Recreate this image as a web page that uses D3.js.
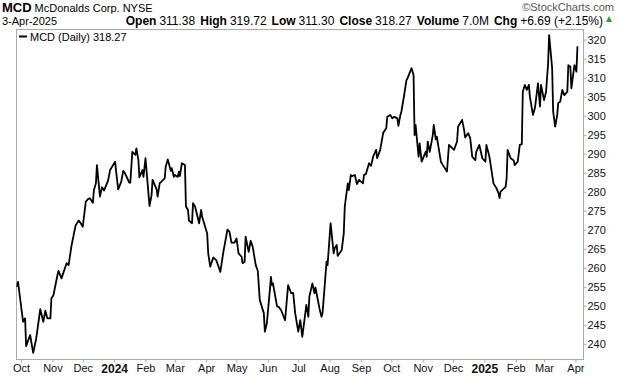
<!DOCTYPE html>
<html lang="en">
<head>
<meta charset="UTF-8" />
<title>MCD</title>
<style>
  body { margin: 0; background: #fff; }
  text { font-family: "Liberation Sans", Arial, sans-serif; }
</style>
</head>
<body>
<svg id="chart" width="620" height="376"></svg>
<script src="https://cdn.jsdelivr.net/npm/d3@7"></script>
<script>
// header text
const symbol = "MCD";
const company = "McDonalds Corp. NYSE";
const quoteDate = "3-Apr-2025";
const quoteFields = [["Open", "311.38"], ["High", "319.72"], ["Low", "311.30"], ["Close", "318.27"], ["Volume", "7.0M"], ["Chg", "+6.69 (+2.15%)"]];
const legendLabel = "MCD (Daily) 318.27";
const credit = "\u00A9StockCharts.com";

// daily closes
const prices2023 = [
  ["2023-09-27", 255.0], ["2023-09-28", 256.3], ["2023-10-03", 245.8], ["2023-10-05", 246.7],
  ["2023-10-06", 239.4], ["2023-10-10", 242.3], ["2023-10-13", 237.6], ["2023-10-16", 241.4],
  ["2023-10-20", 249.1], ["2023-10-23", 245.8], ["2023-10-25", 248.7], ["2023-10-27", 246.7],
  ["2023-10-30", 246.7], ["2023-10-31", 252.0], ["2023-11-02", 252.8], ["2023-11-06", 258.1],
  ["2023-11-07", 259.2], ["2023-11-10", 257.2], ["2023-11-15", 261.2], ["2023-11-17", 260.7],
  ["2023-11-20", 266.0], ["2023-11-24", 271.2], ["2023-11-27", 272.4], ["2023-11-29", 271.7],
  ["2023-12-01", 270.8], ["2023-12-04", 277.4], ["2023-12-06", 278.0], ["2023-12-08", 278.3],
  ["2023-12-11", 277.1], ["2023-12-12", 280.4], ["2023-12-14", 282.2], ["2023-12-15", 287.0],
  ["2023-12-18", 278.7], ["2023-12-20", 281.2], ["2023-12-22", 280.3], ["2023-12-26", 282.9],
  ["2023-12-28", 285.7]
];
const prices2024 = [
  ["2024-01-02", 287.9], ["2024-01-03", 285.3], ["2024-01-05", 280.6], ["2024-01-08", 282.6],
  ["2024-01-10", 285.5], ["2024-01-12", 284.7], ["2024-01-16", 282.4], ["2024-01-17", 282.4],
  ["2024-01-19", 290.5], ["2024-01-22", 289.7], ["2024-01-23", 291.4], ["2024-01-25", 288.3],
  ["2024-01-26", 283.8], ["2024-01-29", 285.7], ["2024-01-30", 283.9], ["2024-02-01", 288.8],
  ["2024-02-02", 285.7], ["2024-02-05", 276.2], ["2024-02-07", 279.1], ["2024-02-08", 283.1],
  ["2024-02-12", 280.6], ["2024-02-13", 278.7], ["2024-02-15", 282.2], ["2024-02-20", 283.5],
  ["2024-02-21", 286.6], ["2024-02-23", 288.5], ["2024-02-26", 285.5], ["2024-02-27", 286.2],
  ["2024-02-29", 283.9], ["2024-03-01", 284.4], ["2024-03-04", 283.9], ["2024-03-05", 285.3],
  ["2024-03-06", 284.1], ["2024-03-08", 287.5], ["2024-03-11", 287.0], ["2024-03-12", 276.1],
  ["2024-03-14", 275.2], ["2024-03-15", 272.4], ["2024-03-18", 271.7], ["2024-03-19", 277.0],
  ["2024-03-21", 276.1], ["2024-03-25", 271.7], ["2024-03-27", 275.2], ["2024-03-28", 273.4],
  ["2024-04-02", 269.0], ["2024-04-03", 263.8], ["2024-04-05", 260.3], ["2024-04-08", 262.7],
  ["2024-04-11", 262.0], ["2024-04-15", 258.9], ["2024-04-18", 264.2], ["2024-04-22", 270.0],
  ["2024-04-24", 269.5], ["2024-04-26", 266.6], ["2024-04-29", 266.6], ["2024-05-01", 267.7],
  ["2024-05-03", 263.8], ["2024-05-06", 262.9], ["2024-05-07", 261.2], ["2024-05-09", 261.6],
  ["2024-05-10", 268.2], ["2024-05-13", 264.2], ["2024-05-15", 267.1], ["2024-05-17", 265.5],
  ["2024-05-20", 260.7], ["2024-05-22", 259.2], ["2024-05-24", 251.5], ["2024-05-28", 248.0],
  ["2024-05-29", 243.2], ["2024-05-31", 245.4], ["2024-06-03", 254.3], ["2024-06-04", 257.6],
  ["2024-06-05", 255.4], ["2024-06-06", 255.9], ["2024-06-10", 249.9], ["2024-06-12", 249.6],
  ["2024-06-14", 248.9], ["2024-06-18", 246.2], ["2024-06-20", 252.4], ["2024-06-21", 255.4],
  ["2024-06-24", 253.3], ["2024-06-26", 253.4], ["2024-06-28", 248.0], ["2024-07-01", 243.2],
  ["2024-07-03", 246.2], ["2024-07-05", 241.8], ["2024-07-09", 250.2], ["2024-07-11", 247.1],
  ["2024-07-12", 252.4], ["2024-07-15", 255.9], ["2024-07-17", 253.3], ["2024-07-18", 254.8],
  ["2024-07-22", 249.3], ["2024-07-24", 247.1], ["2024-07-25", 248.0], ["2024-07-29", 261.6],
  ["2024-07-30", 260.7], ["2024-08-02", 271.7], ["2024-08-05", 263.8], ["2024-08-06", 265.1],
  ["2024-08-08", 266.0], ["2024-08-09", 263.1], ["2024-08-13", 264.7], ["2024-08-15", 269.0],
  ["2024-08-16", 276.1], ["2024-08-19", 282.2], ["2024-08-20", 280.4], ["2024-08-22", 284.4],
  ["2024-08-23", 284.1], ["2024-08-26", 284.4], ["2024-08-28", 282.0], ["2024-08-30", 283.1],
  ["2024-09-03", 282.2], ["2024-09-04", 284.4], ["2024-09-06", 284.7], ["2024-09-09", 287.5],
  ["2024-09-11", 286.8], ["2024-09-13", 289.2], ["2024-09-16", 291.0], ["2024-09-17", 288.8],
  ["2024-09-20", 291.0], ["2024-09-23", 295.5], ["2024-09-26", 296.7], ["2024-09-27", 299.7],
  ["2024-09-30", 300.2], ["2024-10-02", 299.3], ["2024-10-04", 299.7], ["2024-10-07", 299.3],
  ["2024-10-08", 297.3], ["2024-10-10", 300.2], ["2024-10-11", 301.1], ["2024-10-14", 305.9],
  ["2024-10-16", 309.4], ["2024-10-17", 309.8], ["2024-10-21", 312.5], ["2024-10-23", 310.7],
  ["2024-10-24", 294.9], ["2024-10-25", 297.6], ["2024-10-28", 289.2], ["2024-10-29", 292.7],
  ["2024-10-31", 287.9], ["2024-11-04", 290.5], ["2024-11-05", 289.2], ["2024-11-06", 293.2],
  ["2024-11-08", 290.5], ["2024-11-11", 294.9], ["2024-11-12", 297.6], ["2024-11-14", 293.8],
  ["2024-11-15", 294.5], ["2024-11-19", 287.9], ["2024-11-21", 287.0], ["2024-11-25", 285.3],
  ["2024-11-27", 292.3], ["2024-11-29", 291.8], ["2024-12-02", 291.0], ["2024-12-05", 293.2],
  ["2024-12-06", 297.1], ["2024-12-10", 298.9], ["2024-12-12", 296.2], ["2024-12-13", 294.3],
  ["2024-12-16", 295.4], ["2024-12-18", 294.1], ["2024-12-20", 289.2], ["2024-12-23", 288.3],
  ["2024-12-24", 290.5], ["2024-12-27", 292.3], ["2024-12-30", 288.8]
];
const prices2025 = [
  ["2025-01-02", 287.9], ["2025-01-03", 292.3], ["2025-01-06", 289.2], ["2025-01-08", 285.7],
  ["2025-01-10", 282.2], ["2025-01-13", 280.9], ["2025-01-15", 279.6], ["2025-01-16", 278.3],
  ["2025-01-17", 280.0], ["2025-01-22", 281.3], ["2025-01-23", 283.5], ["2025-01-24", 291.0],
  ["2025-01-27", 288.8], ["2025-01-30", 288.2], ["2025-01-31", 287.0], ["2025-02-03", 287.9],
  ["2025-02-05", 292.3], ["2025-02-07", 292.5], ["2025-02-08", 306.3], ["2025-02-10", 308.1],
  ["2025-02-12", 306.8], ["2025-02-14", 308.1], ["2025-02-15", 305.0], ["2025-02-18", 300.2],
  ["2025-02-20", 302.0], ["2025-02-23", 308.5], ["2025-02-25", 302.4], ["2025-02-26", 308.1],
  ["2025-03-01", 304.1], ["2025-03-03", 306.3], ["2025-03-05", 313.8], ["2025-03-06", 321.2],
  ["2025-03-09", 312.5], ["2025-03-10", 301.1], ["2025-03-12", 297.1], ["2025-03-14", 300.2],
  ["2025-03-15", 303.3], ["2025-03-17", 303.7], ["2025-03-19", 306.8], ["2025-03-21", 305.4],
  ["2025-03-24", 306.3], ["2025-03-25", 313.3], ["2025-03-27", 312.9], ["2025-03-28", 307.2],
  ["2025-03-31", 313.3], ["2025-04-01", 312.6], ["2025-04-02", 311.58], ["2025-04-03", 318.27]
];

// axis ticks
const monthTicks = ["2023-10-01", "2023-11-01", "2023-12-01", "2024-01-01", "2024-02-01", "2024-03-01",
  "2024-04-01", "2024-05-01", "2024-06-01", "2024-07-01", "2024-08-01", "2024-09-01", "2024-10-01",
  "2024-11-01", "2024-12-01", "2025-01-01", "2025-02-01", "2025-03-01", "2025-04-01"];
const monthLabels = ["Oct", "Nov", "Dec", "2024", "Feb", "Mar", "Apr", "May", "Jun", "Jul", "Aug",
  "Sep", "Oct", "Nov", "Dec", "2025", "Feb", "Mar", "Apr"];
const priceTicks = [240, 245, 250, 255, 260, 265, 270, 275, 280, 285, 290, 295, 300, 305, 310, 315, 320];

let parse = d3.timeParse("%Y-%m-%d");
let data = prices2023.concat(prices2024, prices2025).map(d => ({ date: parse(d[0]), close: d[1] }));

let svg = d3.select("#chart");
let plot = { left: 16, top: 29, width: 567, height: 330 };

// scales: plot spans from late Sep 2023 to early Apr 2025
let x = d3.scaleTime()
  .domain([parse("2023-09-26"), new Date(2025, 3, 8, 12)])
  .range([0, plot.width]);
let y = d3.scaleLinear().domain([236, 322.8]).range([plot.height, 0]);

// header
let h1 = svg.append("text").attr("x", 2).attr("y", 12);
h1.append("tspan").attr("font-size", 13).attr("font-weight", "bold").text(symbol);
h1.append("tspan").attr("font-size", 11).attr("dx", 3).text(company);

svg.append("text").attr("x", 2).attr("y", 24.5).attr("font-size", 11).text(quoteDate);

let quote = svg.append("text").attr("x", 603).attr("y", 24.5).attr("font-size", 12).attr("text-anchor", "end");
quoteFields.forEach((f, i) => {
  quote.append("tspan").attr("font-weight", "bold").attr("dx", i ? 5 : 0).text(f[0]);
  quote.append("tspan").attr("dx", 3).text(f[1]);
});
svg.append("path").attr("d", "M606,22L612,22L609,16Z").attr("fill", "#2e9e2e");

svg.append("text").attr("x", 614).attr("y", 11).attr("font-size", 11).attr("fill", "#555")
  .attr("text-anchor", "end").text(credit);

// plot frame
let g = svg.append("g").attr("transform", `translate(${plot.left},${plot.top})`);
g.append("rect").attr("x", 0.5).attr("y", 0.5).attr("width", plot.width).attr("height", plot.height)
  .attr("fill", "none").attr("stroke", "#aaa");

// axes
let yAxis = d3.axisRight(y).tickValues(priceTicks).tickSize(3).tickPadding(1);
let ya = svg.append("g").attr("transform", `translate(${plot.left + plot.width + 0.5},${plot.top})`).call(yAxis);

let xAxis = d3.axisBottom(x).tickValues(monthTicks.map(parse)).tickSize(3).tickPadding(2)
  .tickFormat((d, i) => monthLabels[i]);
let xa = svg.append("g").attr("transform", `translate(${plot.left},${plot.top + plot.height + 0.5})`).call(xAxis);

[ya, xa].forEach(a => {
  a.select(".domain").remove();
  a.selectAll(".tick line").attr("stroke", "#aaa");
  a.selectAll(".tick text").attr("font-size", 11).attr("font-family", "Liberation Sans, Arial, sans-serif").attr("fill", "#111");
});
xa.selectAll(".tick text").filter((d, i) => /^\d{4}$/.test(monthLabels[i])).attr("font-weight", "bold").attr("font-size", 12);

// price line
let line = d3.line().x(d => x(d.date)).y(d => y(d.close));
g.append("path").datum(data).attr("d", line)
  .attr("fill", "none").attr("stroke", "#000").attr("stroke-width", 1.8).attr("stroke-linejoin", "round");

// legend
g.append("line").attr("x1", 3).attr("x2", 11).attr("y1", 7.5).attr("y2", 7.5).attr("stroke", "#000").attr("stroke-width", 2);
g.append("text").attr("x", 14).attr("y", 11.5).attr("font-size", 11).attr("font-family", "DejaVu Sans, Verdana, sans-serif")
  .text(legendLabel);
</script>
</body>
</html>
